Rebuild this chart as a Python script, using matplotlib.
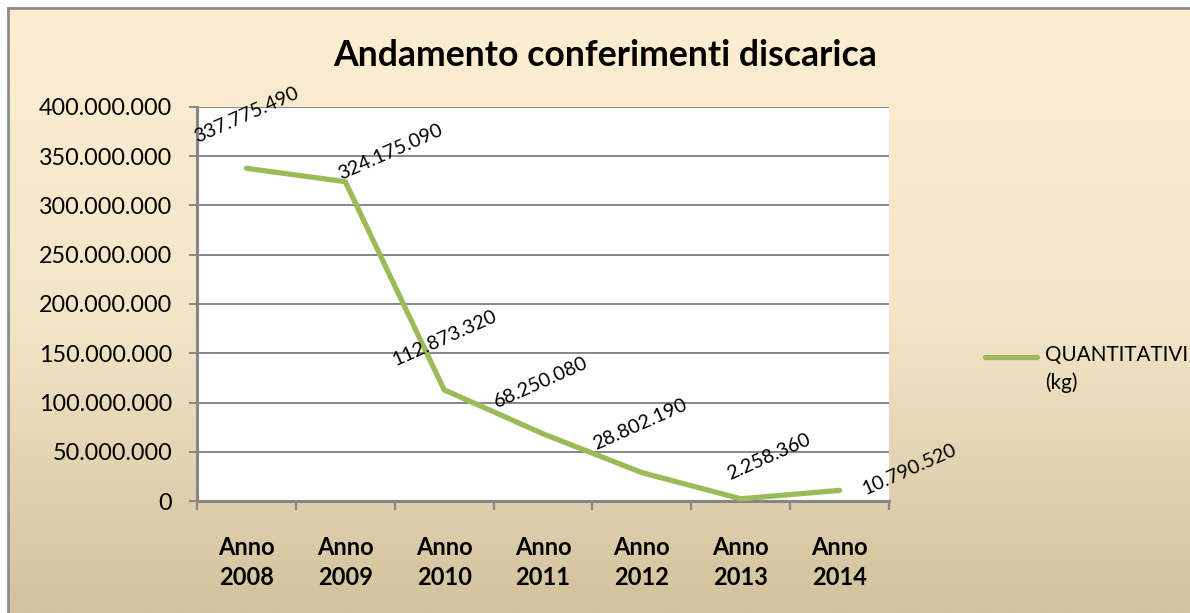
import numpy as np
import matplotlib
matplotlib.use("Agg")
import matplotlib.pyplot as plt
from matplotlib.colors import LinearSegmentedColormap
from matplotlib.ticker import FuncFormatter, MultipleLocator, FixedLocator
from matplotlib.lines import Line2D

plt.rcParams['font.family'] = ['Lato', 'DejaVu Sans']

# Data
categories = ["Anno\n2008", "Anno\n2009", "Anno\n2010", "Anno\n2011",
              "Anno\n2012", "Anno\n2013", "Anno\n2014"]
quantities = [337775490, 324175090, 112873320, 68250080, 28802190, 2258360, 10790520]
series_name = "QUANTITATIVI\n(kg)"
title = "Andamento conferimenti discarica"

# Label offsets (pixels) from each point to its label centre
label_offsets = [(0, 53), (45, 30), (0, 52), (-2, 51), (-2, 48), (28, 42), (70, 21)]


def it_format(v):
    return f"{int(round(v)):,}".replace(",", ".")


W, H, DPI = 1190, 613, 100
fig = plt.figure(figsize=(W / DPI, H / DPI), dpi=DPI)
fig.patch.set_facecolor("white")

# Gradient chart background with gray border
bg = fig.add_axes([8 / W, 0, 1 - 8 / W, 1 - 8 / H])
bg.set_axis_off()
cmap = LinearSegmentedColormap.from_list("bg", ["#FDEED1", "#F3E6C8", "#D3C29D"])
grad = np.linspace(0, 1, 256).reshape(-1, 1)
bg.imshow(grad, aspect="auto", cmap=cmap, extent=[0, 1, 0, 1], origin="upper")
bg.set_xlim(0, 1)
bg.set_ylim(0, 1)
fig.add_artist(Line2D([8 / W, 8 / W], [0, 1 - 8 / H], transform=fig.transFigure,
                      color="#8C8C8C", lw=2))
fig.add_artist(Line2D([8 / W, 1], [1 - 8 / H, 1 - 8 / H], transform=fig.transFigure,
                      color="#8C8C8C", lw=2))

ax = fig.add_axes([197 / W, 112 / H, (889 - 197) / W, (501 - 107) / H])
ax.set_facecolor("white")
x = np.arange(len(categories))
ax.plot(x, quantities, color="#9BBB59", lw=3.8, solid_capstyle="round",
        solid_joinstyle="round", zorder=3)

ax.set_xlim(-0.5, len(categories) - 0.5)
ax.set_ylim(0, 400_000_000)
ax.yaxis.set_major_locator(MultipleLocator(50_000_000))
ax.yaxis.set_major_formatter(FuncFormatter(lambda v, p: it_format(v)))
ax.grid(axis="y", color="#868686", lw=1.4, zorder=0)
ax.set_axisbelow(True)

ax.set_xticks(x)
ax.set_xticklabels(categories, fontsize=17, fontweight="bold", linespacing=1.38)
ax.xaxis.set_minor_locator(FixedLocator(np.arange(-0.5, len(categories), 1.0)))
ax.tick_params(axis="x", which="major", length=0, pad=25)
ax.tick_params(axis="x", which="minor", length=6.5, width=1.6, color="#868686")
ax.tick_params(axis="y", length=5.8, width=1.4, color="#868686", labelsize=16.8, pad=12)

for side in ("top", "right"):
    ax.spines[side].set_visible(False)
for side in ("left", "bottom"):
    ax.spines[side].set_color("#868686")
    ax.spines[side].set_linewidth(2.2)

for xi, q, (dx, dy) in zip(x, quantities, label_offsets):
    ax.annotate(it_format(q), (xi, q), xytext=(dx, dy), textcoords="offset pixels",
                ha="center", va="center", rotation=24, fontsize=14.2,
                color="black", zorder=4, annotation_clip=False)

fig.text(605 / W, 1 - 55 / H, title, ha="center", va="center",
         fontsize=25.7, fontweight="bold")

# Legend
fig.add_artist(Line2D([985 / W, 1037 / W], [1 - 357 / H, 1 - 357 / H],
                      transform=fig.transFigure, color="#9BBB59", lw=3.8,
                      solid_capstyle="round"))
fig.text(1045 / W, 1 - 345 / H, series_name, ha="left", va="top", fontsize=14.9,
         linespacing=1.45)

fig.savefig("out.png", dpi=DPI, facecolor=fig.get_facecolor())
